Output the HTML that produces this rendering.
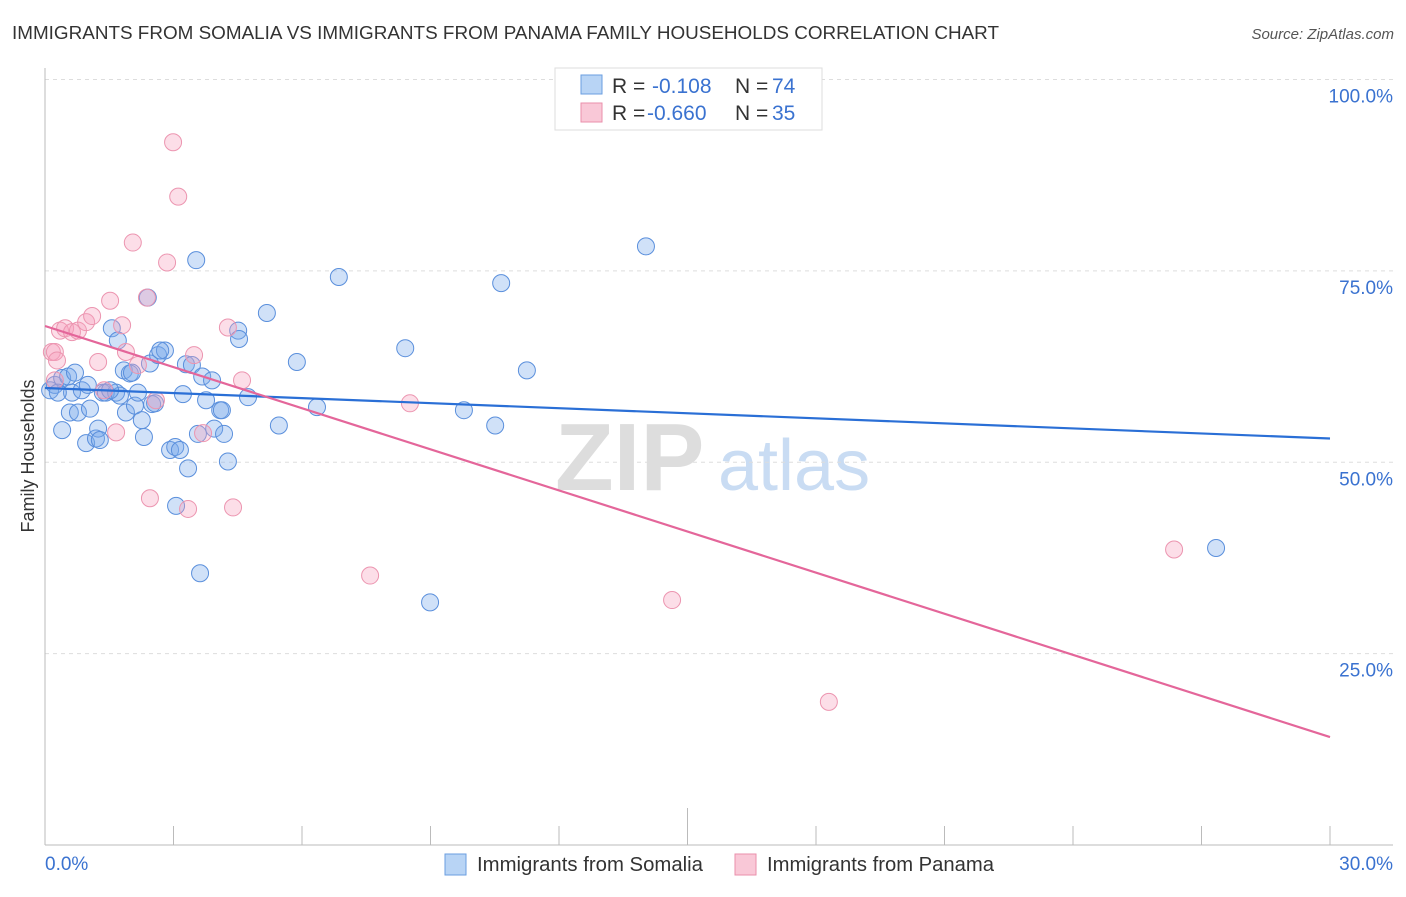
<!DOCTYPE html>
<html><head><meta charset="utf-8"><style>
body{margin:0;background:#fff;font-family:"Liberation Sans",sans-serif;}
svg text{font-family:"Liberation Sans",sans-serif;}
</style></head><body>
<svg id="chart" width="1406" height="892" xmlns="http://www.w3.org/2000/svg">
<text x="12" y="39" font-size="18" fill="#333" textLength="987" lengthAdjust="spacingAndGlyphs">IMMIGRANTS FROM SOMALIA VS IMMIGRANTS FROM PANAMA FAMILY HOUSEHOLDS CORRELATION CHART</text>
<text x="1394" y="39" font-size="15" fill="#555" text-anchor="end" font-style="italic">Source: ZipAtlas.com</text>
<g>
<text x="555" y="490" font-size="96" fill="#ddd" font-family="Liberation Serif,serif" font-weight="bold">ZIP</text>
<text x="718" y="490" font-size="72" fill="#c9dcf3">atlas</text>
</g>
<g id="grid"></g>
<g id="axes"></g>
<g id="pts"></g>
<g id="lines"></g>
<text transform="translate(34,456) rotate(-90)" font-size="18" fill="#333" text-anchor="middle">Family Households</text>
<g>
<rect x="555" y="68" width="267" height="62" fill="#fff" stroke="#ddd"/>
<rect x="581" y="75" width="21" height="19" fill="#b8d4f5" stroke="#6a9ee0"/>
<rect x="581" y="103" width="21" height="19" fill="#f9c8d7" stroke="#ea8fab"/>
<text x="612" y="93" font-size="21" fill="#333">R =<tspan x="652" fill="#3a72d0">-0.108</tspan><tspan x="735">N =</tspan><tspan x="772" fill="#3a72d0">74</tspan></text>
<text x="612" y="120" font-size="21" fill="#333">R =<tspan x="647" fill="#3a72d0">-0.660</tspan><tspan x="735">N =</tspan><tspan x="772" fill="#3a72d0">35</tspan></text>
</g>
<g>
<rect x="445" y="854" width="21" height="21" fill="#b8d4f5" stroke="#6a9ee0"/>
<text x="477" y="871" font-size="20" fill="#333" textLength="226" lengthAdjust="spacingAndGlyphs">Immigrants from Somalia</text>
<rect x="735" y="854" width="21" height="21" fill="#f9c8d7" stroke="#ea8fab"/>
<text x="767" y="871" font-size="20" fill="#333" textLength="227" lengthAdjust="spacingAndGlyphs">Immigrants from Panama</text>
</g>
</svg>
<script>
const blueX=[0.12,0.23,0.40,0.54,0.70,0.40,0.58,0.63,0.77,0.86,1.00,0.96,1.19,1.24,1.28,1.35,1.42,1.56,1.66,1.70,1.75,1.84,1.89,1.98,2.03,2.10,2.17,2.26,2.31,2.40,2.45,2.50,2.57,2.64,2.80,2.92,3.04,3.06,3.15,3.22,3.29,3.34,3.43,3.53,3.57,3.62,3.67,3.76,3.90,3.95,4.09,4.13,4.18,4.27,4.51,4.53,4.74,5.18,5.46,5.88,6.35,6.86,8.41,8.99,9.78,10.51,10.65,11.25,14.03,27.34,2.69,1.52,1.05,0.30];
const blueY=[59.4,60.1,61.0,61.2,61.7,54.2,56.5,59.1,56.5,59.4,60.1,52.5,53.1,54.4,52.9,59.1,59.1,67.5,59.1,65.9,58.7,62.0,56.5,61.6,61.7,57.4,59.1,55.5,53.3,71.5,62.9,57.6,57.7,64.0,64.6,51.6,52.0,44.3,51.6,58.9,62.8,49.2,62.7,76.4,53.7,35.5,61.2,58.1,60.7,54.4,56.8,56.8,53.7,50.1,67.2,66.1,58.5,69.5,54.8,63.1,57.2,74.2,64.9,31.7,56.8,54.8,73.4,62.0,78.2,38.8,64.6,59.4,57.0,59.1];
const pinkX=[0.16,0.23,0.28,0.35,0.47,0.63,0.77,0.96,1.10,1.24,1.38,1.52,1.66,1.80,1.89,2.05,2.17,2.38,2.45,2.59,2.85,2.99,3.11,3.34,3.48,3.69,4.27,4.39,4.60,7.59,8.52,14.64,18.30,26.36,0.23];
const pinkY=[64.4,64.4,63.3,67.2,67.5,67.0,67.2,68.3,69.1,63.1,59.4,71.1,53.9,67.9,64.4,78.7,62.7,71.5,45.3,58.1,76.1,91.8,84.7,43.9,64.0,53.8,67.6,44.1,60.7,35.2,57.7,32.0,18.7,38.6,60.7];
const blueTrend=[59.7,53.1];
const pinkTrend=[67.8,14.1];
const yTicks=[25,50,75,100];
const yTickLabels=["25.0%","50.0%","75.0%","100.0%"];
const xTicks=[0,3,6,9,12,15,18,21,24,27,30];
const xEndLabels=["0.0%","30.0%"];
const NS="http://www.w3.org/2000/svg";
const X=v=>45+v*(1285/30), Y=v=>845-v*7.655;
function mk(p,t,a){const e=document.createElementNS(NS,t);for(const k in a)e.setAttribute(k,a[k]);p.appendChild(e);return e;}
const grid=document.getElementById('grid'),axes=document.getElementById('axes'),pts=document.getElementById('pts'),lines=document.getElementById('lines');
yTicks.forEach((t,i)=>{
 const l=mk(grid,'line',{x1:45,x2:1393,y1:Y(t),y2:Y(t),stroke:'#ddd','stroke-dasharray':'4,4'});
 
 
 const tx=mk(axes,'text',{x:1393,y:Y(t)+23,'font-size':19,fill:'#3a72d0','text-anchor':'end'});
 tx.textContent=yTickLabels[i];
 
 
});
mk(axes,'line',{x1:45,x2:45,y1:68,y2:845,stroke:'#bbb'});
mk(axes,'line',{x1:45,x2:1393,y1:845,y2:845,stroke:'#bbb'});
xTicks.forEach(t=>{
 const tk=mk(axes,'line',{x1:X(t),x2:X(t),y1:t===15?808:826,y2:845,stroke:'#bbb'});
 
 
});
const l0=mk(axes,'text',{x:45,y:870,'font-size':19,fill:'#3a72d0'});l0.textContent=xEndLabels[0];


const l1=mk(axes,'text',{x:1393,y:870,'font-size':19,fill:'#3a72d0','text-anchor':'end'});l1.textContent=xEndLabels[1];


blueX.forEach((x,i)=>{
 const c=mk(pts,'circle',{cx:X(x),cy:Y(blueY[i]),r:8.5,fill:'rgba(120,170,235,0.35)',stroke:'#5a8fdc','stroke-width':1});
 
 
});
pinkX.forEach((x,i)=>{
 const c=mk(pts,'circle',{cx:X(x),cy:Y(pinkY[i]),r:8.5,fill:'rgba(245,160,190,0.35)',stroke:'#ec95b0','stroke-width':1});
 
 
});
const bl=mk(lines,'line',{x1:X(0),y1:Y(blueTrend[0]),x2:X(30),y2:Y(blueTrend[1]),stroke:'#2a6fd6','stroke-width':2.2});


const pl=mk(lines,'line',{x1:X(0),y1:Y(pinkTrend[0]),x2:X(30),y2:Y(pinkTrend[1]),stroke:'#e4669a','stroke-width':2.2});


</script>
</body></html>
